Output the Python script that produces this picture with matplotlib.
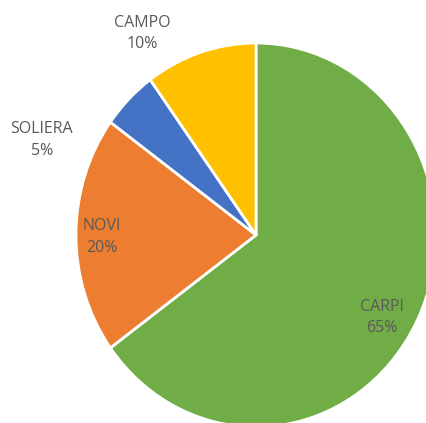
import numpy as np
import matplotlib.pyplot as plt

labels = ["CARPI", "NOVI", "SOLIERA", "CAMPO"]
values = [65, 20, 5, 10]
colors = ["#70AD47", "#ED7D31", "#4472C4", "#FFC000"]

# label centres (data units, pie radius = 1)
label_pos = [(0.70, -0.43), (-0.855, -0.01), (-1.19, 0.495), (-0.63, 1.05)]

plt.rcParams["font.family"] = ["Open Sans", "DejaVu Sans"]

fig = plt.figure(figsize=(4.27, 4.23), dpi=100)
ax = fig.add_axes([0, 0, 1, 1])
ax.pie(values, colors=colors, startangle=90, counterclock=False,
       wedgeprops=dict(edgecolor="white", linewidth=2))
ax.set_aspect("auto")

# pie centre at (256, 235) px, radii 180 x 192 px
ax.set_xlim(-256 / 180, (427 - 256) / 180)
ax.set_ylim(-(423 - 235) / 192, 235 / 192)
ax.axis("off")

total = sum(values)
for lab, v, (x, y) in zip(labels, values, label_pos):
    ax.text(x, y, f"{lab}\n{round(100 * v / total)}%", ha="center", va="center",
            fontsize=11.5, color="#595959", linespacing=1.45)

fig.savefig("out.png", dpi=100)
